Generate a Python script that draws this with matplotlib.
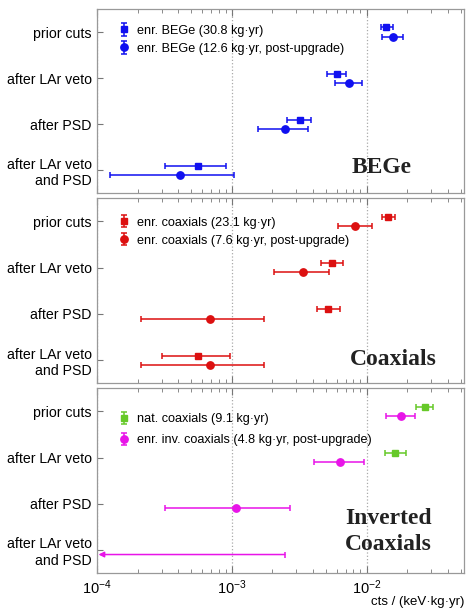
import numpy as np
import matplotlib
matplotlib.use("Agg")
import matplotlib.pyplot as plt
from matplotlib.ticker import LogLocator, NullFormatter

plt.rcParams["font.family"] = ["Liberation Sans", "DejaVu Sans"]
plt.rcParams["mathtext.fontset"] = "custom"
plt.rcParams["mathtext.rm"] = "Liberation Sans"
plt.rcParams["mathtext.it"] = "Liberation Sans:italic"

CATEGORIES = ["prior cuts", "after LAr veto", "after PSD", "after LAr veto\nand PSD"]

# BEGe panel
bege_old = [0.0140, 0.0060, 0.0032, 0.00056]
bege_old_lo = [0.0129, 0.0051, 0.00255, 0.00032]
bege_old_hi = [0.0157, 0.0070, 0.0039, 0.00090]
bege_new = [0.0156, 0.0074, 0.00246, 0.00041]
bege_new_lo = [0.0131, 0.0058, 0.00157, 0.000124]
bege_new_hi = [0.0185, 0.0093, 0.00367, 0.00103]

# Coaxial panel
coax_old = [0.0145, 0.0055, 0.0052, 0.00056]
coax_old_lo = [0.0131, 0.0046, 0.00425, 0.00030]
coax_old_hi = [0.0163, 0.0067, 0.0063, 0.00097]
coax_new = [0.0082, 0.0034, 0.00069, 0.00069]
coax_new_lo = [0.0061, 0.00205, 0.00021, 0.00021]
coax_new_hi = [0.0109, 0.00525, 0.00172, 0.00172]

# Inverted coaxial panel
nat_coax = [0.0271, 0.0164]
nat_coax_lo = [0.0233, 0.0136]
nat_coax_hi = [0.0312, 0.0198]
inv_coax = [0.0180, 0.0064, 0.00107]
inv_coax_lo = [0.0139, 0.0041, 0.00032]
inv_coax_hi = [0.0229, 0.0095, 0.00271]
inv_coax_limit = 0.00247  # upper limit, after LAr veto and PSD

BLUE = "#1010f0"
RED = "#dc1010"
GREEN = "#66c928"
MAGENTA = "#e814e8"
XMIN, XMAX = 1e-4, 0.053


def draw_series(ax, vals, lo, hi, offset, marker, color, ms):
    vals = np.array(vals)
    y = np.arange(len(vals)) + offset
    xerr = [vals - np.array(lo), np.array(hi) - vals]
    ax.errorbar(vals, y, xerr=xerr, fmt=marker, color=color, ms=ms,
                elinewidth=1.1, capsize=2.2, capthick=1.1, zorder=3)


def add_legend(ax, entries, labels, y_anchor, spacing):
    handles = []
    for marker, color, ms in entries:
        h = ax.errorbar([np.nan], [np.nan], yerr=[1], fmt=marker, color=color, ms=ms,
                        elinewidth=1.1, capsize=2.2, capthick=1.1)
        handles.append(h)
    ax.legend(handles, labels, loc="upper left", bbox_to_anchor=(0.035, y_anchor),
              frameon=False, fontsize=9.1, handlelength=1.0, handletextpad=0.55,
              labelspacing=spacing, borderaxespad=0.2)


def style_axis(ax, show_xlabels):
    ax.set_xscale("log")
    ax.set_xlim(XMIN, XMAX)
    ax.set_ylim(3.5, -0.5)
    ax.set_yticks(range(len(CATEGORIES)))
    ax.set_yticklabels(CATEGORIES, fontsize=10.2)
    for lab in ax.get_yticklabels():
        lab.set_multialignment("right")
    ax.xaxis.set_major_locator(LogLocator(base=10))
    ax.xaxis.set_minor_locator(LogLocator(base=10, subs=np.arange(2, 10)))
    ax.xaxis.set_minor_formatter(NullFormatter())
    ax.tick_params(axis="x", which="both", direction="in", top=True, color="#777777")
    ax.tick_params(axis="x", which="major", length=5, labelsize=10.5, pad=4)
    ax.tick_params(axis="x", which="minor", length=3)
    ax.tick_params(axis="y", direction="in", length=4, color="#777777", pad=4)
    if not show_xlabels:
        ax.set_xticklabels([])
    for sp in ax.spines.values():
        sp.set_color("#999999")
        sp.set_linewidth(0.9)
    ax.grid(True, which="major", axis="x", color="#aaaaaa", linestyle=":", linewidth=0.9)
    ax.set_axisbelow(True)


fig = plt.figure(figsize=(4.66, 6.11), dpi=100)
left, width = 0.2088, 0.787
ax1 = fig.add_axes([left, 0.6836, width, 0.3016])
ax2 = fig.add_axes([left, 0.3727, width, 0.3028])
ax3 = fig.add_axes([left, 0.0622, width, 0.3023])

# BEGe
style_axis(ax1, False)
draw_series(ax1, bege_old, bege_old_lo, bege_old_hi, -0.1, "s", BLUE, 4.3)
draw_series(ax1, bege_new, bege_new_lo, bege_new_hi, 0.1, "o", BLUE, 5.3)
add_legend(ax1, [("s", BLUE, 4.3), ("o", BLUE, 5.3)],
           ["enr. BEGe (30.8 kg·yr)", "enr. BEGe (12.6 kg·yr, post-upgrade)"], 0.955, 0.45)
ax1.text(0.774, 0.14, "BEGe", transform=ax1.transAxes, ha="center", va="center",
         fontsize=17, fontweight="bold", family="Liberation Serif", color="#222222")

# Coaxials
style_axis(ax2, False)
draw_series(ax2, coax_old, coax_old_lo, coax_old_hi, -0.1, "s", RED, 4.3)
draw_series(ax2, coax_new, coax_new_lo, coax_new_hi, 0.1, "o", RED, 5.3)
add_legend(ax2, [("s", RED, 4.3), ("o", RED, 5.3)],
           ["enr. coaxials (23.1 kg·yr)", "enr. coaxials (7.6 kg·yr, post-upgrade)"], 0.942, 0.47)
ax2.text(0.808, 0.126, "Coaxials", transform=ax2.transAxes, ha="center", va="center",
         fontsize=17, fontweight="bold", family="Liberation Serif", color="#222222")

# Inverted coaxials
style_axis(ax3, True)
draw_series(ax3, nat_coax, nat_coax_lo, nat_coax_hi, -0.1, "s", GREEN, 4.3)
draw_series(ax3, inv_coax, inv_coax_lo, inv_coax_hi, 0.1, "o", MAGENTA, 5.3)
y_lim = len(CATEGORIES) - 1 + 0.1
ax3.plot([inv_coax_limit], [y_lim], marker="|", ms=5, mew=1.1, color=MAGENTA, zorder=3)
ax3.annotate("", xy=(ax3.get_xlim()[0] * 1.02, y_lim), xytext=(inv_coax_limit, y_lim),
             arrowprops=dict(arrowstyle="-|>", color=MAGENTA, lw=1.1,
                             mutation_scale=8, shrinkA=0, shrinkB=0), zorder=3)
add_legend(ax3, [("s", GREEN, 4.3), ("o", MAGENTA, 5.3)],
           ["nat. coaxials (9.1 kg·yr)", "enr. inv. coaxials (4.8 kg·yr, post-upgrade)"], 0.905, 0.7)
ax3.text(0.793, 0.226, "Inverted\nCoaxials", transform=ax3.transAxes, ha="center",
         va="center", fontsize=17, fontweight="bold", family="Liberation Serif",
         color="#222222", linespacing=1.3)

fig.text(0.9957, 0.0155, "cts / (keV·kg·yr)", ha="right", va="center", fontsize=9.5)

fig.savefig("out.png", dpi=100)
